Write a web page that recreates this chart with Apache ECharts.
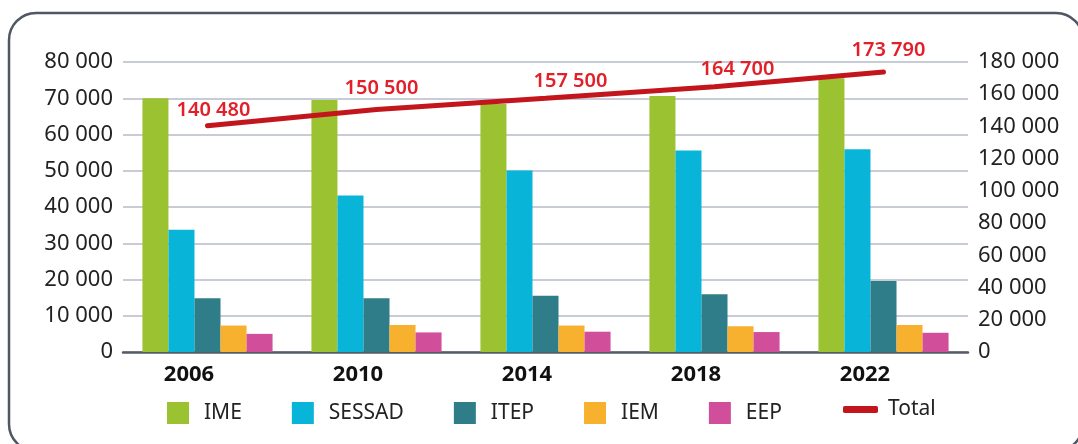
<!DOCTYPE html>
<html>
<head>
<meta charset="utf-8">
<script src="https://cdn.jsdelivr.net/npm/echarts@6/dist/echarts.min.js"></script>
<style>
html,body{margin:0;padding:0;background:#fff;}
#chart{width:1078px;height:444px;}
</style>
</head>
<body>
<div id="chart"></div>
<script>
var categories = ['2006', '2010', '2014', '2018', '2022'];
var seriesNames = ['IME', 'SESSAD', 'ITEP', 'IEM', 'EEP'];
var IME = [70000, 69500, 68400, 70600, 75500];
var SESSAD = [33700, 43200, 50100, 55600, 55900];
var ITEP = [14800, 14800, 15500, 15900, 19600];
var IEM = [7300, 7450, 7300, 7100, 7450];
var EEP = [5000, 5400, 5600, 5500, 5300];
var Total = [140480, 150500, 157500, 164700, 173790];
var leftTicks = [0, 10000, 20000, 30000, 40000, 50000, 60000, 70000, 80000];
var rightTicks = [0, 20000, 40000, 60000, 80000, 100000, 120000, 140000, 160000, 180000];

var colors = ['#9bc230', '#08b5d9', '#2f7d88', '#f8b02f', '#d14e9a'];
var totalColor = '#c3161c';
var labelOffsets = [[6, 0], [5, -6], [25, -2], [23, -2], [5, -7]];
var FONT = 'Noto Sans';

function fmt(v) { return String(v).replace(/\B(?=(\d{3})+(?!\d))/g, ' '); }

var barData = [IME, SESSAD, ITEP, IEM, EEP];
var series = barData.map(function (d, i) {
  return {
    name: seriesNames[i], type: 'bar', data: d, yAxisIndex: 0,
    barGap: '0%', barCategoryGap: '23%',
    itemStyle: { color: colors[i] }
  };
});
series.push({
  name: 'Total', type: 'line', yAxisIndex: 1,
  data: Total.map(function (v, i) {
    return { value: v, label: { offset: labelOffsets[i] } };
  }),
  symbol: 'circle', symbolSize: 0,
  lineStyle: { color: totalColor, width: 5, cap: 'round' },
  itemStyle: { color: totalColor },
  label: {
    show: true, position: 'top', distance: 5,
    color: '#e3202a', fontFamily: FONT, fontSize: 20, fontWeight: 600,
    formatter: function (p) { return fmt(p.value); }
  },
  z: 5
});

var chart = echarts.init(document.getElementById('chart'));
chart.setOption({
  animation: false,
  textStyle: { fontFamily: FONT },
  graphic: [{
    type: 'rect', shape: { x: 9, y: 13, width: 1074, height: 438, r: 27 },
    style: { fill: 'none', stroke: '#515664', lineWidth: 2.5 }, z: -1
  }],
  grid: { left: 123, right: 110, top: 62, bottom: 92 },
  legend: [{
    data: seriesNames, left: 162, top: 397, itemWidth: 22, itemHeight: 22, itemGap: 50,
    icon: 'rect',
    textStyle: { fontFamily: FONT, fontSize: 21, color: '#222', padding: [0, 0, 0, 10] }
  }, {
    data: [{ name: 'Total', icon: 'roundRect' }], left: 838, top: 394, itemWidth: 35, itemHeight: 7,
    textStyle: { fontFamily: FONT, fontSize: 21, color: '#222', padding: [0, 0, 0, 5] }
  }],
  xAxis: {
    type: 'category', data: categories,
    axisLine: { lineStyle: { color: '#555b68', width: 2.5 } },
    axisTick: { show: false },
    axisLabel: { color: '#111', fontFamily: FONT, fontSize: 22, fontWeight: 'bold', margin: 12, padding: [0, 37, 0, 0] }
  },
  yAxis: [{
    type: 'value', min: leftTicks[0], max: leftTicks[leftTicks.length - 1], interval: leftTicks[1] - leftTicks[0],
    axisLine: { show: false }, axisTick: { show: false },
    splitLine: { lineStyle: { color: '#b6bbc8', width: 1.5 } },
    axisLabel: { color: '#222', fontFamily: FONT, fontSize: 22, margin: 10, formatter: fmt }
  }, {
    type: 'value', min: rightTicks[0], max: rightTicks[rightTicks.length - 1], interval: rightTicks[1] - rightTicks[0],
    position: 'right',
    axisLine: { show: false }, axisTick: { show: false }, splitLine: { show: false },
    axisLabel: { color: '#222', fontFamily: FONT, fontSize: 22, margin: 10, formatter: fmt }
  }],
  series: series
});
</script>
</body>
</html>
